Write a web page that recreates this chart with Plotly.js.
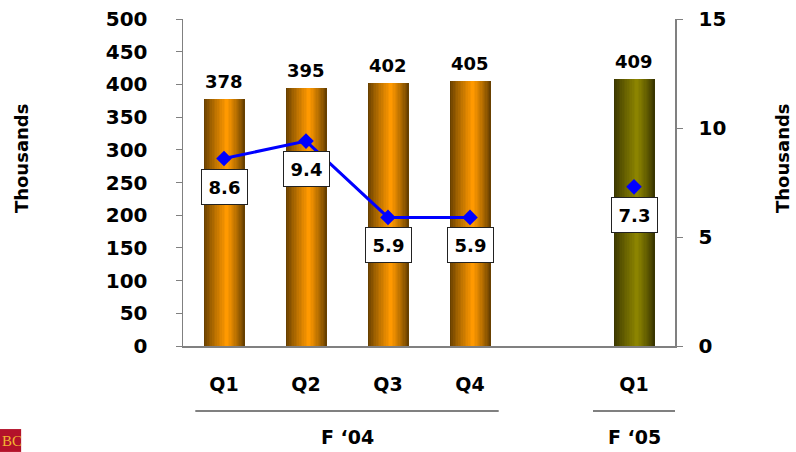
<!DOCTYPE html>
<html>
<head>
<meta charset="utf-8">
<script src="https://cdn.plot.ly/plotly-3.0.1.min.js"></script>
<style>html,body{margin:0;padding:0;background:#fff;}#chart{width:796px;height:452px;}</style>
</head>
<body>
<div id="chart"></div>
<script>
// ---- data ----
const quarters = ['Q1', 'Q2', 'Q3', 'Q4', 'Q1'];
const fiscalYears = ["F \u201804", "F \u201804", "F \u201804", "F \u201804", "F \u201805"];
const barValues = [378, 395, 402, 405, 409];
const lineValues = [8.6, 9.4, 5.9, 5.9, 7.3];
const leftTicks = [0, 50, 100, 150, 200, 250, 300, 350, 400, 450, 500];
const rightTicks = [0, 5, 10, 15];

// ---- positions: leave one empty slot between fiscal years ----
const xs = [];
let slot = 0;
for (let i = 0; i < quarters.length; i++) {
  if (i > 0 && fiscalYears[i] !== fiscalYears[i - 1]) slot += 1;
  xs.push(slot);
  slot += 1;
}
const groups = [];
fiscalYears.forEach((fy, i) => {
  let g = groups.find(gg => gg.name === fy);
  if (!g) { g = {name: fy, xs: []}; groups.push(g); }
  g.xs.push(xs[i]);
});

// ---- cylinder-like shading via nested overlay bars ----
const BAR_W = 0.5, N = 14, P = 0.035;
const palettes = fiscalYears.map(fy => fy === fiscalYears[fiscalYears.length - 1]
  ? {edge: [58, 54, 0], bright: [140, 132, 0]}
  : {edge: [104, 64, 0], bright: [255, 153, 0]});
function mix(a, b, t) {
  return 'rgb(' + a.map((v, j) => Math.round(v + (b[j] - v) * t)).join(',') + ')';
}
const traces = [];
const dl = (BAR_W / 2 + P) / N, dr = (BAR_W / 2 - P) / N;
for (let k = 0; k < N; k++) {
  const t = Math.pow(k / (N - 1), 0.85);
  const left = -BAR_W / 2 + k * dl;
  const right = BAR_W / 2 - k * dr;
  traces.push({
    type: 'bar', x: xs, y: barValues,
    width: right - left, offset: left,
    marker: {color: palettes.map(p => mix(p.edge, p.bright, t)), line: {width: 0}},
    hoverinfo: 'skip', showlegend: false
  });
}
// line with gap between fiscal years
const lx = [], ly = [];
xs.forEach((x, i) => {
  if (i > 0 && x - xs[i - 1] > 1) { lx.push(x - 1); ly.push(null); }
  lx.push(x); ly.push(lineValues[i]);
});
traces.push({
  type: 'scatter', mode: 'lines+markers', x: lx, y: ly, yaxis: 'y2',
  connectgaps: false,
  line: {color: '#0000ff', width: 3},
  marker: {symbol: 'diamond', size: 12, color: '#0000ff'},
  hoverinfo: 'skip', showlegend: false
});

const FONT = 'DejaVu Sans, Verdana, sans-serif';
const annotations = [];
xs.forEach((x, i) => {
  annotations.push({
    x: x, y: barValues[i], xref: 'x', yref: 'y', text: '<b>' + barValues[i] + '</b>',
    showarrow: false, xanchor: 'center', yanchor: 'bottom', yshift: 5,
    font: {family: FONT, size: 18, color: '#000'}
  });
  annotations.push({
    x: x, y: lineValues[i], xref: 'x', yref: 'y2', text: '<b>' + lineValues[i].toFixed(1) + '</b>',
    showarrow: false, xanchor: 'center', yanchor: 'middle', yshift: -28, width: 43, height: 32, borderpad: 1,
    bgcolor: '#ffffff', bordercolor: '#222', borderwidth: 1,
    font: {family: FONT, size: 18, color: '#000'}
  });
});
const shapes = [];
groups.forEach(g => {
  const lo = Math.min(...g.xs), hi = Math.max(...g.xs);
  const c = (lo + hi) / 2;
  const x0 = g.xs.length > 1 ? c - 0.5 - (hi - lo) * 0.45 : c - 0.5;
  const x1 = g.xs.length > 1 ? c + 0.5 + (hi - lo) * 0.45 : c + 0.52;
  shapes.push({type: 'line', xref: 'x', yref: 'paper', x0: x0, x1: x1,
    y0: -0.199, y1: -0.199, line: {color: '#808080', width: 2}});
  annotations.push({x: c, y: -0.278, xref: 'x', yref: 'paper', text: '<b>' + g.name + '</b>',
    xanchor: 'center', yanchor: 'middle',
    showarrow: false, font: {family: FONT, size: 19, color: '#000'}});
});
annotations.push({x: -0.327, y: 0.575, xref: 'paper', yref: 'paper', text: '<b>Thousands</b>',
  xanchor: 'center', yanchor: 'middle',
  textangle: -90, showarrow: false, font: {family: FONT, size: 18, color: '#000'}});
annotations.push({x: 1.2195, y: 0.575, xref: 'paper', yref: 'paper', text: '<b>Thousands</b>',
  xanchor: 'center', yanchor: 'middle',
  textangle: -90, showarrow: false, font: {family: FONT, size: 18, color: '#000'}});
// logo fragment
shapes.push({type: 'rect', xref: 'paper', yref: 'paper', x0: -0.372, x1: -0.329,
  y0: -0.324, y1: -0.254, fillcolor: '#b3122a', line: {width: 0}, layer: 'above'});
annotations.push({x: -0.3695, y: -0.289, xref: 'paper', yref: 'paper', xanchor: 'left', yanchor: 'middle',
  text: 'BC', borderpad: 0,
  showarrow: false, font: {family: 'Liberation Serif, serif', size: 15, color: '#f2b632'}});

const layout = {
  width: 796, height: 452,
  margin: {l: 183, r: 121, t: 19, b: 106, pad: 0},
  paper_bgcolor: '#fff', plot_bgcolor: '#fff',
  barmode: 'overlay', bargap: 0,
  xaxis: {
    range: [-0.5, Math.max(...xs) + 0.5], tickvals: xs, ticktext: quarters.map(q => '<b>' + q + '</b>'),
    showline: true, linecolor: '#808080', linewidth: 2, ticks: '', showgrid: false, zeroline: false,
    tickfont: {family: FONT, size: 19, color: '#000'}, ticklabelstandoff: 20, fixedrange: true
  },
  yaxis: {
    range: [0, 500], tickvals: leftTicks, ticktext: leftTicks.map(v => '<b>' + v + '</b>'),
    showline: true, linecolor: '#808080', linewidth: 1.5, ticks: 'outside', ticklen: 6,
    tickcolor: '#808080', showgrid: false, zeroline: false,
    tickfont: {family: FONT, size: 20, color: '#000'}, ticklabelstandoff: 24
  },
  yaxis2: {
    range: [0, 15], overlaying: 'y', side: 'right', tickvals: rightTicks,
    ticktext: rightTicks.map(v => '<b>' + v + '</b>'),
    showline: true, linecolor: '#808080', linewidth: 1.5, ticks: 'outside', ticklen: 6,
    tickcolor: '#808080', showgrid: false, zeroline: false,
    tickfont: {family: FONT, size: 20, color: '#000'}, ticklabelstandoff: 12
  },
  annotations: annotations, shapes: shapes
};
Plotly.newPlot('chart', traces, layout, {displayModeBar: false, staticPlot: true});
</script>
</body>
</html>
